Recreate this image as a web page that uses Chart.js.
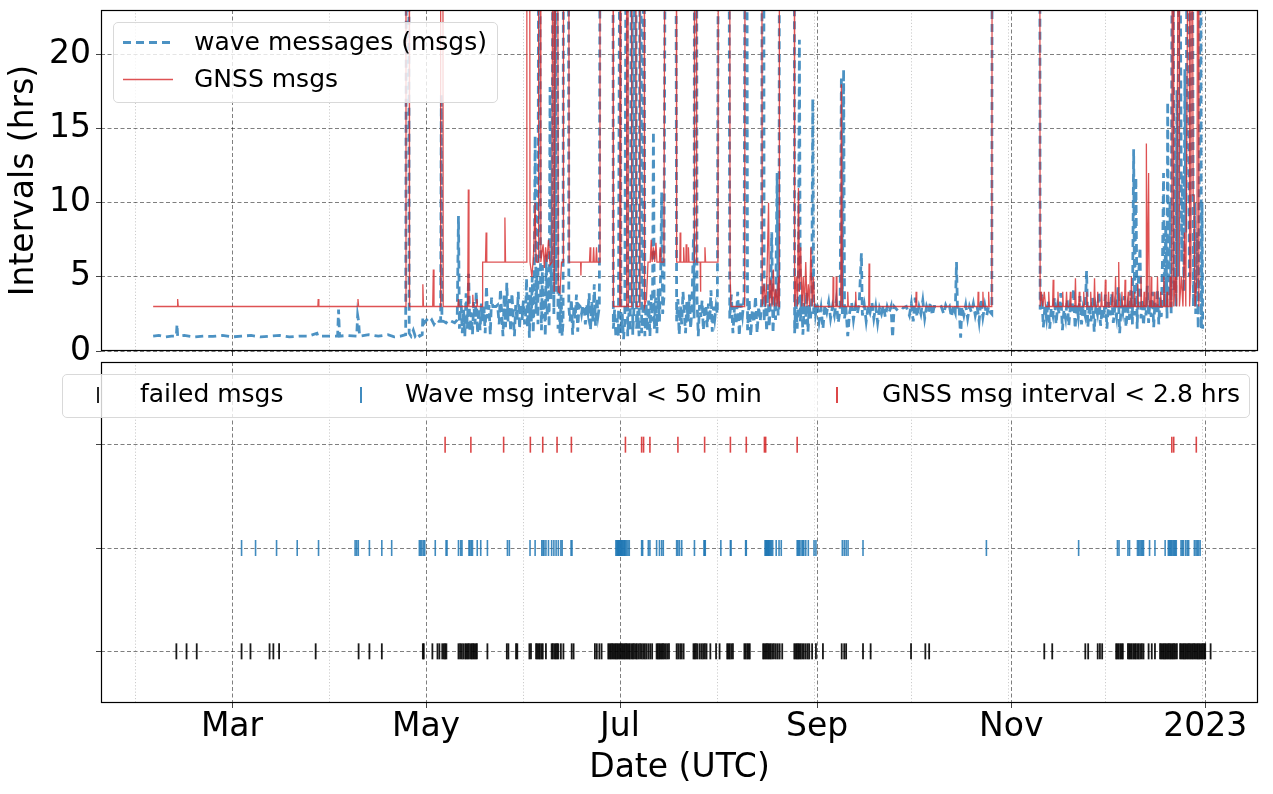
<!DOCTYPE html>
<html>
<head>
<meta charset="utf-8">
<script src="https://cdn.jsdelivr.net/npm/chart.js@4.4.1/dist/chart.umd.min.js"></script>
<style>
  body { margin: 0; background: #fff; font-family: 'DejaVu Sans', sans-serif; }
  #wrap { position: relative; width: 1273px; height: 794px; overflow: hidden; }
  #top { position: absolute; left: 0; top: 0; }
  #bottom { position: absolute; left: 0; top: 356px; }
  .legend { position: absolute; box-sizing: border-box; background: rgba(255,255,255,0.8);
            border: 1px solid #d9d9d9; border-radius: 5px; font-size: 25px; color: #000; }
  .legend span { position: absolute; line-height: 30px; white-space: nowrap; }
  .legend i { position: absolute; width: 1.5px; height: 16px; }
</style>
</head>
<body>
<div id="wrap">
  <canvas id="top" width="1273" height="368"></canvas>
  <canvas id="bottom" width="1273" height="438"></canvas>

  <div class="legend" style="left:113px;top:22px;width:385px;height:81px;">
    <svg style="position:absolute;left:0;top:0" width="383" height="79">
      <line x1="9" y1="19.5" x2="59" y2="19.5" stroke="rgba(31,119,180,0.8)" stroke-width="2.8" stroke-dasharray="8 5"/>
      <line x1="9" y1="56.5" x2="59" y2="56.5" stroke="rgba(214,39,40,0.8)" stroke-width="1.3"/>
    </svg>
    <span style="left:80px;top:4px">wave messages (msgs)</span>
    <span style="left:80px;top:41px">GNSS msgs</span>
  </div>

  <div class="legend" style="left:62px;top:374px;width:1188px;height:44px;">
    <i style="left:34px;top:11.5px;background:rgba(0,0,0,0.85)"></i>
    <span style="left:77px;top:4px">failed msgs</span>
    <i style="left:297px;top:11.5px;background:rgba(31,119,180,0.85)"></i>
    <span style="left:342px;top:4px">Wave msg interval &lt; 50 min</span>
    <i style="left:773px;top:11.5px;background:rgba(214,39,40,0.85)"></i>
    <span style="left:819px;top:4px">GNSS msg interval &lt; 2.8 hrs</span>
  </div>
</div>

<script>
// days counted from 2022-01-01 (day 0)
const majorTickDays = [59, 120, 181, 243, 304, 365];
const majorTickLabels = ['Mar', 'May', 'Jul', 'Sep', 'Nov', '2023'];
const minorTickDays = [28.5, 89.5, 150.5, 211.5, 242, 272.5, 303, 333.5, 364];
const hourTicks = [0, 5, 10, 15, 20];

// [day, interval hrs] — values above 23 run off the top of the plot
const wavePoints = [
  [34.2,1.0],[36,1.05],[38,0.95],[40,1.0],[41.5,1.0],[41.7,1.8],[41.9,1.0],[44,1.05],[47,0.95],[50,1.0],
  [53,0.98],[56,1.05],[59,0.95],[62,1.0],[65,1.05],[68,0.95],[71,1.0],[74,1.05],[77,0.95],[80,1.0],
  [83,1.0],[85.7,1.2],[86,1.0],[89,1.0],[92.2,1.0],[92.5,2.8],[92.8,1.0],[95,1.05],[98.2,1.0],[98.5,2.4],
  [98.8,2.0],[99.1,1.0],[102,1.1],[105,1.0],[108,1.1],[110,0.95],[112,1.0],[113.6,1.1],[113.8,26],[114.6,26],
  [114.7,1.2],[115.3,1.0],[116,1.4],[116.6,1.0],[117.3,1.2],[118,1.0],[118.8,1.1],[119,2.3],[119.5,1.9],[120.2,2.1],
  [121,1.9],[121.8,2.1],[122.5,1.8],[123.3,2.1],[124,2.0],[124.6,2.0],[124.8,17.3],[125,2.0],[125.5,2.0],[126.3,1.9],
  [127,2.1],[128,2.0],[129,1.9],[129.8,2.1],[130.2,9.1],[130.5,1.5],[131,3.5],[131.4,1.2],[131.8,2.8],[132.2,1.0],
  [132.6,3.9],[133,1.5],[133.4,5.2],[133.8,1.3],[134.2,2.6],[134.6,1.1],[135,3.3],[135.4,1.8],[135.8,4.0],[136.2,1.2],
  [136.6,2.9],[137,1.4],[137.4,3.2],[137.8,2.0],[138.2,3.0],[138.6,1.2],[139,4.4],[139.4,2.2],[139.8,3.1],[140.2,1.1],
  [140.6,3.6],[141,3.0],[142,3.0],[142.5,3.1],[143,1.8],[143.4,4.2],[143.8,2.5],[144.2,1.0],[144.6,3.8],[145,1.6],
  [145.4,4.6],[145.8,2.0],[146.2,3.5],[146.6,1.3],[147,3.9],[147.4,2.4],[147.8,1.0],[148.2,3.1],[148.6,2.0],[149,4.0],
  [149.4,1.5],[149.8,3.2],[150.2,2.1],[150.6,3.4],[151,1.8],[151.3,2.4],[151.6,4.9],[151.9,1.6],[152.2,3.8],[152.5,0.9],
  [152.8,4.3],[153.1,2.0],[153.4,5.0],[153.7,1.2],[154,3.5],[154.3,14.5],[154.6,2.5],[154.9,5.5],[155.2,1.8],[155.4,30],
  [155.8,30],[156,4.6],[156.3,1.4],[156.6,5.8],[156.9,2.2],[157.2,4.0],[157.5,1.0],[157.8,6.5],[158.1,2.3],[158.4,5.0],
  [158.7,1.6],[159,17.8],[159.3,3.5],[159.6,8.0],[159.9,30],[160.2,2.5],[160.6,30],[160.9,4.0],[161.2,30],[161.5,1.5],
  [161.8,4.5],[162.1,1.2],[162.5,3.8],[162.8,1.0],[163.1,2.0],[163.2,30],[164.8,30],[164.9,3.0],[165.3,2.0],[165.7,3.5],
  [166.1,1.1],[166.5,3.0],[166.9,2.2],[167.3,3.8],[167.7,1.3],[168.1,3.1],[168.5,3.0],[168.9,2.5],[169.3,3.1],[169.7,3.0],
  [170.1,1.8],[170.5,3.2],[170.9,2.6],[171.3,3.9],[171.7,1.4],[172.1,3.3],[172.5,2.0],[172.9,4.5],[173.3,1.7],[173.7,3.6],
  [174.1,2.4],[174.5,3.0],[174.7,30],[178.8,30],[178.9,1.5],[179.3,2.8],[179.7,0.9],[180.1,2.2],[180.5,1.0],[180.9,30],
  [181.1,30],[181.3,1.2],[181.7,2.5],[182.1,0.8],[182.5,2.0],[182.9,30],[183.2,30],[183.4,1.0],[183.8,2.6],[184.2,1.3],
  [184.6,30],[184.8,30],[185,1.1],[185.4,3.0],[185.6,30],[186,30],[186.2,1.5],[186.6,2.7],[187,1.0],[187.3,30],
  [187.6,30],[187.8,1.2],[188.2,2.5],[188.4,30],[188.6,30],[188.8,1.0],[189.2,3.2],[189.6,1.4],[190,3.4],[190.4,1.0],
  [190.8,3.8],[191.2,2.0],[191.5,14.8],[191.8,1.5],[192.2,3.6],[192.6,1.2],[193,4.2],[193.4,2.0],[193.8,5.5],[194.1,10.7],
  [194.4,2.5],[194.8,3.6],[195.2,30],[198.6,30],[198.8,2.0],[199.2,3.5],[199.6,1.1],[200,3.0],[200.4,1.8],[200.8,4.0],
  [201.2,2.6],[201.6,1.2],[202,3.3],[202.4,2.0],[202.8,3.8],[203.2,1.5],[203.6,2.9],[204.1,7.7],[204.3,2.2],[204.4,30],
  [205.1,30],[205.2,3.6],[205.6,1.0],[206,3.1],[206.4,2.3],[206.8,3.4],[207.2,1.4],[207.6,2.7],[208,3.1],[208.4,1.6],
  [208.8,3.2],[209.2,2.0],[209.6,4.1],[210,1.3],[210.4,3.0],[210.8,2.2],[211.2,3.0],[211.6,2.5],[211.9,30],[215.3,30],
  [215.5,2.2],[216,3.8],[216.5,1.2],[217,3.0],[217.5,1.8],[218,4.0],[218.5,1.0],[219,3.2],[219.5,2.4],[220,3.6],
  [220.3,30],[220.9,30],[221.1,1.4],[221.6,3.5],[222.1,1.0],[222.6,2.8],[223.1,1.9],[223.6,3.7],[224.1,1.2],[224.6,3.0],
  [225.1,2.0],[225.5,3.3],[225.7,30],[226.2,30],[226.3,2.0],[226.7,3.8],[227.1,1.3],[227.5,4.5],[227.9,1.6],[228.3,3.4],
  [228.7,8.0],[229.1,1.2],[229.5,3.6],[229.9,2.1],[230.4,12.0],[230.7,2.4],[231,3.0],[231.1,30],[235.8,30],[235.9,1.2],
  [236.3,3.6],[236.7,1.5],[237.1,4.2],[237.4,21.0],[237.7,2.0],[238.1,3.8],[238.5,1.1],[238.9,3.3],[239.3,1.8],[239.7,4.0],
  [240.1,1.3],[240.5,3.1],[240.9,2.2],[241.3,3.6],[241.6,17.0],[241.9,2.5],[242.3,3.2],[242.5,2.5],[243,3.2],[243.6,2.0],
  [244.2,2.9],[244.8,1.5],[245.4,3.1],[246,2.6],[246.6,3.3],[247.2,2.2],[247.8,3.0],[248.4,2.4],[249,3.4],[249.6,1.9],
  [250.2,2.8],[250.6,18.5],[250.9,2.5],[251.3,19.0],[251.6,2.2],[252,3.0],[252.6,1.0],[253.2,2.6],[253.8,3.3],[254.4,2.1],
  [255,3.0],[255.6,2.5],[256.2,3.2],[256.9,6.6],[257.2,2.4],[257.8,3.1],[258.4,2.0],[259,3.0],[259.6,2.6],[260.2,3.3],
  [260.8,2.2],[261.4,3.0],[262,1.9],[262.6,2.9],[263.2,2.5],[263.8,3.1],[264.4,2.3],[265,3.0],[265.6,2.6],[266.2,3.0],
  [266.7,0.9],[267.2,3.0],[268,2.8],[269,3.0],[270,2.9],[271,3.0],[272,2.4],[272.6,3.2],[273.2,2.0],[273.8,3.6],
  [274.4,2.3],[275,3.0],[275.6,2.5],[276.2,3.4],[276.8,2.2],[277.4,3.0],[278,2.6],[278.6,3.3],[279.2,2.4],[279.8,3.0],
  [280.5,3.0],[281.2,2.9],[282,3.0],[282.8,2.5],[283.4,3.1],[284,2.8],[284.6,3.0],[285.2,2.3],[285.8,3.0],[286.4,2.6],
  [286.8,6.0],[287.1,2.8],[287.6,3.0],[288.1,0.9],[288.5,3.0],[289.1,2.4],[289.7,3.1],[290.3,2.2],[290.9,3.0],[291.5,2.6],
  [292.1,3.2],[292.7,2.4],[293.3,3.0],[293.9,2.0],[294.5,3.5],[295.1,2.3],[295.7,3.1],[296.3,2.4],[296.9,3.0],[297.5,2.6],
  [297.9,2.5],[298,30],[313,30],[313.1,2.8],[313.6,3.8],[314.1,1.6],[314.6,3.0],[315.1,2.2],[315.6,3.4],[316.1,1.5],
  [316.6,2.9],[317.1,2.4],[317.6,3.6],[318.1,1.8],[318.6,3.0],[319.1,2.5],[319.6,3.9],[320.1,1.4],[320.6,2.8],[321.1,2.2],
  [321.6,3.5],[322.1,1.7],[322.6,3.0],[323.1,2.6],[323.6,4.2],[324.1,1.5],[324.6,3.1],[325.1,2.3],[325.6,3.7],[326.1,1.8],
  [326.6,2.9],[327.2,2.4],[327.7,5.4],[328.1,1.6],[328.6,3.2],[329.1,2.0],[329.6,3.6],[330.1,1.3],[330.6,3.0],[331.1,2.5],
  [331.6,4.0],[332.1,1.7],[332.6,2.9],[333.1,2.2],[333.6,3.8],[334.1,1.5],[334.6,3.3],[335.1,2.4],[335.6,3.9],[336.1,1.9],
  [336.6,3.0],[337.1,2.3],[337.6,4.3],[338.1,1.2],[338.6,3.2],[339.1,2.6],[339.6,3.7],[340.1,1.6],[340.6,2.9],[341.1,2.1],
  [341.6,4.1],[342.1,1.8],[342.5,13.6],[342.8,2.4],[343.2,11.7],[343.6,1.5],[344,4.8],[344.5,7.0],[344.8,2.2],[345.2,3.5],
  [345.6,1.7],[346,3.1],[346.4,2.4],[346.8,4.4],[347.2,1.9],[347.6,3.4],[348,2.3],[348.4,4.0],[348.8,1.6],[349.2,3.3],
  [349.6,2.5],[350,4.2],[350.4,1.8],[350.8,3.7],[351.2,2.3],[351.6,6.5],[351.9,12.0],[352.2,3.0],[352.6,8.5],[353,2.2],
  [353.2,16.8],[353.5,3.6],[353.9,10.0],[354.3,2.5],[354.6,30],[354.9,30],[355.2,4.0],[355.5,15.0],[355.8,3.0],[356.1,17.6],
  [356.4,5.0],[356.8,30],[357.1,30],[357.3,19.0],[357.6,6.0],[357.9,12.0],[358.3,4.0],[358.6,19.0],[358.9,8.0],[359.3,30],
  [359.7,30],[360,5.0],[360.4,14.0],[360.7,30],[361,30],[361.3,3.0],[361.7,10.0],[362,2.5],[362.4,8.0],[362.8,1.5],
  [363.2,14.0],[363.4,30],[363.6,30],[363.8,1.5],[364,10.0],[364.2,1.5]
];

const gnssPoints = [
  [34.2,3.0],[41.7,3.0],[41.9,3.5],[42.1,3.0],[86,3.0],[86.1,3.5],[86.3,3.0],[98.4,3.0],[98.6,3.5],[98.8,3.0],
  [113.6,3.0],[113.7,30],[114.7,30],[114.8,3.0],[118.8,3.0],[119,4.5],[119.2,3.0],[122.1,3.0],[122.3,5.5],[122.5,3.0],
  [124.5,3.0],[124.6,30],[125.3,30],[125.4,3.0],[130,3.0],[130.2,3.5],[130.4,3.0],[133.1,3.0],[133.3,10.9],[133.5,3.0],
  [134.5,3.0],[134.7,3.8],[134.9,3.0],[135.8,3.0],[136,3.5],[136.2,3.0],[137.7,3.0],[137.8,6.0],[138.7,6.0],[138.9,8.0],
  [139.1,6.0],[144.6,6.0],[144.8,9.0],[145,6.0],[151.1,6.0],[151.6,6.0],[151.7,30],[152.6,30],[152.7,6.0],[153.3,5.0],
  [153.8,6.5],[154.3,10.0],[154.6,6.0],[155.3,6.0],[155.4,30],[156,30],[156.1,6.0],[156.8,7.2],[157.2,5.6],[157.6,7.0],
  [158,6.0],[158.5,7.5],[159,5.8],[159.6,6.0],[159.8,30],[160.2,30],[160.3,4.0],[160.8,30],[161.4,30],[161.6,4.0],
  [162.1,3.9],[162.6,6.0],[163.1,6.0],[163.2,30],[164.9,30],[165,6.0],[168.6,6.0],[168.7,5.1],[168.8,6.0],[171.4,6.0],
  [171.6,7.0],[171.8,6.0],[172.5,6.0],[172.7,7.0],[172.9,6.0],[173.4,6.0],[173.6,7.0],[173.8,6.0],[174.6,6.0],[174.7,30],
  [178.8,30],[178.9,3.0],[180.9,3.0],[181,30],[181.2,30],[181.3,3.0],[183,3.0],[183.1,30],[183.5,30],[183.6,3.0],
  [184.6,3.0],[184.7,30],[186,30],[186.1,3.0],[187.1,3.0],[187.2,30],[188.6,30],[188.7,3.0],[189.3,3.5],[189.8,6.0],
  [190.5,6.0],[190.8,7.5],[191.1,6.0],[191.5,7.0],[191.9,6.0],[192.3,7.3],[192.6,6.0],[193.4,6.0],[193.6,7.0],[193.8,6.0],
  [194.8,6.0],[195.1,30],[198.7,30],[198.8,6.0],[199.8,6.0],[199.9,8.0],[200.1,6.0],[200.9,6.0],[201,7.0],[201.2,6.0],
  [201.7,6.0],[201.8,7.2],[202,6.0],[202.4,6.0],[202.5,7.0],[202.7,6.0],[204.3,6.0],[204.4,30],[205,30],[205.1,6.0],
  [206.2,6.0],[206.3,4.0],[206.4,6.0],[207.6,6.0],[207.7,7.0],[207.9,6.0],[211.8,6.0],[211.9,30],[215.5,30],[215.6,5.0],
  [215.9,3.0],[220.2,3.0],[220.3,30],[225.6,30],[225.7,3.0],[226.3,4.5],[226.8,3.0],[227.2,5.0],[227.7,10.0],[228,3.0],
  [228.4,4.8],[228.8,3.0],[229.2,5.5],[229.6,3.0],[230,4.2],[230.4,3.0],[230.8,5.0],[231,3.0],[231.1,30],[235.8,30],
  [235.9,3.0],[236.4,5.0],[236.8,3.0],[237.1,11.0],[237.4,4.0],[237.8,7.0],[238.2,3.0],[238.6,5.0],[239,3.0],[239.4,6.0],
  [239.8,3.0],[240.2,4.5],[240.6,3.0],[241,7.0],[241.4,3.0],[241.8,5.0],[242.2,3.0],[247.9,3.0],[248,5.0],[248.2,3.0],
  [248.9,3.0],[249,5.0],[249.2,3.0],[250.4,3.0],[250.6,18.0],[250.9,3.0],[252.5,3.0],[252.6,4.0],[252.8,3.0],[255,3.0],
  [255.1,4.0],[255.3,3.0],[259.2,3.0],[259.3,5.9],[259.5,3.0],[274,3.0],[274.1,4.0],[274.3,3.0],[293.5,3.0],[293.6,4.0],
  [293.8,3.0],[295,3.0],[295.1,4.0],[295.3,3.0],[296.8,3.0],[296.9,4.0],[297.1,3.0],[297.9,3.0],[298,30],[313,30],
  [313.1,3.0],[313.5,4.0],[313.9,3.0],[314.4,4.0],[314.8,3.0],[315.6,3.0],[315.8,4.0],[316,3.0],[317,3.0],[317.2,4.8],
  [317.4,3.0],[318.5,3.0],[318.7,4.0],[318.9,3.0],[320,3.0],[320.2,4.0],[320.4,3.0],[321.2,3.0],[321.4,4.0],[321.6,3.0],
  [322.4,3.0],[322.6,4.0],[322.8,3.0],[324,3.0],[324.2,4.9],[324.4,3.0],[325.2,3.0],[325.4,4.0],[325.6,3.0],[326.6,3.0],
  [326.8,4.0],[327,3.0],[327.6,3.0],[327.8,4.0],[328,3.0],[328.8,3.0],[329,4.0],[329.2,3.0],[330,3.0],[330.2,4.9],
  [330.4,3.0],[331,3.0],[331.2,4.0],[331.4,3.0],[332.2,3.0],[332.4,4.0],[332.6,3.0],[333.4,3.0],[333.6,4.8],[333.8,3.0],
  [334.4,3.0],[334.6,4.0],[334.8,3.0],[335.6,3.0],[335.8,4.0],[336,3.0],[336.6,3.0],[336.8,5.0],[337,3.0],[337.6,3.0],
  [337.8,6.0],[338,3.0],[338.6,3.0],[338.8,4.0],[339,3.0],[339.6,3.0],[339.8,4.8],[340,3.0],[340.6,3.0],[340.8,4.0],
  [341,3.0],[341.6,3.0],[341.8,5.0],[342,3.0],[342.6,3.0],[342.8,4.0],[343,3.0],[343.6,3.0],[343.8,4.5],[344,3.0],
  [344.6,3.0],[344.8,5.0],[345,3.0],[345.6,3.0],[345.8,4.0],[346,3.0],[346.4,3.0],[346.5,14.0],[346.7,3.0],[347,3.0],
  [347.2,12.0],[347.4,3.0],[347.8,3.0],[348,5.0],[348.2,3.0],[348.8,3.0],[349,4.0],[349.2,3.0],[349.8,3.0],[350,5.0],
  [350.2,3.0],[350.8,3.0],[351,4.0],[351.2,3.0],[351.8,3.0],[352,5.0],[352.2,3.0],[352.8,3.0],[353,4.0],[353.2,3.0],
  [353.8,3.0],[354,5.0],[354.2,3.0],[354.5,3.0],[354.6,30],[355,30],[355.1,3.0],[355.6,5.0],[356,3.0],[356.5,30],
  [356.8,30],[356.9,3.0],[357.5,5.0],[358,3.0],[358.5,8.0],[358.9,3.0],[359.6,30],[360,30],[360.1,3.0],[360.5,5.0],
  [360.6,30],[361,30],[361.2,10.5],[361.5,10.5],[361.8,3.0],[362.4,5.0],[362.6,30],[362.9,30],[363,3.0]
];

// event rows, bottom to top
const eventRows = ['failed msgs', 'Wave msg interval < 50 min', 'GNSS msg interval < 2.8 hrs'];

const failedDays = [
  41.5, 44.7, 47.9, 62.0, 64.8, 70.8, 72.0, 73.8, 85.3, 98.8, 102.2, 106.1,
  119.0, 119.3, 122.0, 123.6, 124.2, 125.1, 125.6, 126.0, 126.4, 130.2, 130.7, 131.2, 131.7, 132.3,
  132.7, 133.1, 133.5, 134.0, 134.4, 134.8, 135.2, 135.6, 136.0, 139.3, 145.4, 145.9, 148.3, 148.7,
  152.5, 153.0, 154.6, 155.0, 155.4, 155.8, 156.3, 156.7, 157.7, 159.5, 159.9, 160.4, 160.8, 161.2,
  161.6, 162.4, 163.2, 165.8, 166.4, 173.1, 173.7, 174.5, 175.2, 177.3, 177.7, 178.1, 178.5, 178.9,
  179.3, 179.7, 180.1, 180.5, 180.9, 181.3, 181.7, 182.1, 182.5, 182.9, 183.3, 183.7, 184.1, 184.6,
  185.0, 185.4, 185.9, 186.3, 186.8, 187.3, 187.8, 188.3, 188.8, 189.3, 189.9, 190.5, 191.1, 192.5,
  192.9, 193.3, 193.7, 194.1, 194.5, 194.9, 195.4, 195.9, 196.4, 198.8, 199.3, 199.9, 200.4, 201.0,
  204.1, 204.5, 204.9, 205.4, 206.1, 206.7, 207.2, 207.7, 208.2, 209.4, 211.2, 212.3, 214.7, 215.1,
  215.5, 216.0, 216.5, 220.1, 220.5, 221.0, 221.4, 221.8, 226.0, 226.4, 226.8, 227.2, 227.6, 228.0,
  228.4, 228.9, 229.4, 230.0, 230.6, 231.2, 232.0, 235.8, 236.2, 236.6, 237.0, 237.4, 237.8, 238.3,
  238.8, 239.4, 240.0, 240.5, 241.4, 242.6, 244.8, 250.7, 251.5, 252.1, 257.4, 259.8, 272.5, 277.0,
  278.2, 314.4, 316.9, 327.3, 328.2, 331.2, 331.9, 332.6, 337.0, 337.4, 337.8, 338.3, 338.7, 339.1,
  340.7, 341.1, 341.5, 341.9, 342.4, 342.8, 343.2, 343.7, 344.1, 344.6, 345.1, 345.6, 347.2, 348.2,
  349.2, 350.8, 351.2, 351.6, 352.0, 352.4, 352.8, 353.2, 353.6, 354.0, 354.4, 354.8, 355.2, 355.6,
  356.1, 357.1, 357.5, 357.9, 358.3, 358.7, 359.1, 359.5, 359.9, 360.3, 360.7, 361.1, 361.5, 361.9,
  362.3, 362.7, 363.1, 363.5, 363.9, 364.3, 364.7, 365.0, 366.7
];

const waveShortDays = [
  62.0, 66.4, 73.0, 79.5, 86.2, 97.7, 98.2, 98.7, 102.2, 106.1, 109.2, 117.9, 118.3, 118.7, 119.2,
  119.6, 122.9, 126.3, 126.6, 130.2, 130.9, 131.3, 133.5, 133.8, 134.2, 134.6, 136.1, 137.2, 139.3,
  145.6, 146.2, 152.7, 154.3, 156.4, 156.8, 157.1, 157.7, 158.5, 159.5, 160.2, 160.9, 161.6, 162.4,
  162.8, 165.6, 165.9, 179.7, 180.0, 180.2, 180.4, 180.6, 180.8, 181.0, 181.2, 181.4, 181.6, 181.8,
  182.0, 182.3, 182.5, 182.7, 183.1, 183.5, 183.9, 187.8, 188.1, 189.9, 190.4, 192.5, 193.4, 194.1,
  194.6, 198.8, 199.2, 199.7, 200.4, 204.4, 207.4, 207.6, 207.8, 212.7, 215.7, 215.9, 220.5, 220.7,
  226.6, 226.8, 227.0, 227.2, 227.4, 227.6, 227.8, 228.0, 228.3, 228.6, 229.0, 230.1, 231.0, 231.7,
  236.7, 237.0, 237.3, 237.6, 238.2, 238.5, 238.8, 239.4, 240.2, 242.0, 242.6, 250.9, 251.5, 252.1,
  252.7, 257.4, 296.2, 325.2, 337.4, 337.9, 340.7, 341.2, 343.7, 344.1, 344.5, 344.9, 345.3, 345.6,
  347.5, 349.2, 352.4, 353.4, 353.7, 354.0, 354.3, 354.6, 355.0, 355.3, 355.6, 355.9, 357.4, 357.8,
  358.2, 358.9, 359.4, 359.8, 361.6, 362.1, 362.5, 362.9, 363.4
];

const gnssShortDays = [
  126.0, 134.1, 144.4, 152.8, 156.7, 161.2, 165.7, 182.7, 187.8, 188.4, 190.4, 199.2, 207.6,
  215.7, 220.7, 226.4, 226.8, 236.7, 354.5, 355.1, 362.2
];

Chart.defaults.font.family = "'DejaVu Sans', sans-serif";
Chart.defaults.color = '#000';

const GRID = 'rgba(0,0,0,0.5)';
const MINOR_GRID = 'rgba(0,0,0,0.2)';
const isMajor = (ctx) => ctx.tick ? majorTickDays.includes(ctx.tick.value) : true;

const frame = {
  id: 'frame',
  afterDraw(chart) {
    const { ctx, chartArea: a } = chart;
    ctx.save();
    ctx.strokeStyle = '#000';
    ctx.lineWidth = 1.2;
    ctx.strokeRect(Math.round(a.left) + 0.5, Math.round(a.top) + 0.5,
                   Math.round(a.right - a.left) - 1, Math.round(a.bottom - a.top) - 1);
    ctx.restore();
  }
};

// axis label room is fixed by hand so both panels share the same plot edges
function fixY(s) { s.width = 101; s.paddingTop = 0; s.paddingBottom = 0; }

function dateAxis(withLabels) {
  return {
    type: 'linear',
    min: 17.8,
    max: 381.6,
    afterBuildTicks: (s) => {
      s.ticks = majorTickDays.concat(minorTickDays).sort((a, b) => a - b).map(v => ({ value: v }));
    },
    afterFit: (s) => {
      // top panel: extra room below so the "0" label is not cut off
      s.height = withLabels ? 91 : 17;
      s.paddingLeft = 0;
      s.paddingRight = 0;
    },
    ticks: {
      display: withLabels,
      autoSkip: false,
      maxRotation: 0,
      minRotation: 0,
      padding: 0,
      font: { size: 33 },
      callback: (v) => {
        const i = majorTickDays.indexOf(v);
        return i < 0 ? '' : majorTickLabels[i];
      }
    },
    grid: {
      color: (c) => isMajor(c) ? GRID : MINOR_GRID,
      lineWidth: 1,
      tickLength: 5,
      tickColor: (c) => isMajor(c) ? '#444' : 'rgba(0,0,0,0)',
      tickBorderDash: []
    },
    border: { display: false, dash: (c) => isMajor(c) ? [4, 2.5] : [1.2, 2] },
    title: {
      display: withLabels,
      text: 'Date (UTC)',
      font: { size: 33 },
      padding: { top: 0, bottom: 6 }
    }
  };
}

new Chart(document.getElementById('top'), {
  type: 'line',
  data: {
    datasets: [
      {
        label: 'GNSS msgs',
        data: gnssPoints.map(([x, y]) => ({ x, y })),
        borderColor: 'rgba(214,39,40,0.8)',
        borderWidth: 1.3,
        pointRadius: 0,
        tension: 0,
        clip: 0,
        order: 1
      },
      {
        label: 'wave messages (msgs)',
        data: wavePoints.map(([x, y]) => ({ x, y })),
        borderColor: 'rgba(31,119,180,0.8)',
        borderWidth: 2.8,
        borderDash: [8, 5],
        pointRadius: 0,
        tension: 0,
        clip: 0,
        order: 2
      }
    ]
  },
  options: {
    responsive: false,
    animation: false,
    events: [],
    layout: { autoPadding: false, padding: { top: 10, right: 15, left: 0, bottom: 0 } },
    plugins: { legend: { display: false }, tooltip: { enabled: false } },
    scales: {
      x: dateAxis(false),
      y: {
        min: 0,
        max: 23,
        afterBuildTicks: (s) => { s.ticks = hourTicks.map(v => ({ value: v })); },
        afterFit: fixY,
        ticks: { font: { size: 33 }, padding: 5, callback: (v) => String(v) },
        grid: { color: GRID, lineWidth: 1, tickLength: 5, tickColor: '#444', tickBorderDash: [] },
        border: { display: false, dash: [4, 2.5] },
        title: { display: true, text: 'Intervals (hrs)', font: { size: 33 }, padding: { top: 5, bottom: 0 } }
      }
    }
  },
  plugins: [frame]
});

const eventColors = ['rgba(0,0,0,0.9)', 'rgba(31,119,180,0.85)', 'rgba(214,39,40,0.85)'];
const eventWidths = [1.8, 1.6, 1.6];
const eventDays = [failedDays, waveShortDays, gnssShortDays];

new Chart(document.getElementById('bottom'), {
  type: 'scatter',
  data: {
    datasets: eventRows.map((name, row) => ({
      label: name,
      data: eventDays[row].map(d => ({ x: d, y: row })),
      pointStyle: 'line',
      rotation: 90,
      pointRadius: 8,
      pointHoverRadius: 8,
      pointBorderWidth: eventWidths[row],
      borderColor: eventColors[row],
      backgroundColor: eventColors[row]
    }))
  },
  options: {
    responsive: false,
    animation: false,
    events: [],
    layout: { autoPadding: false, padding: { top: 6, right: 15, left: 0, bottom: 0 } },
    plugins: { legend: { display: false }, tooltip: { enabled: false } },
    scales: {
      x: dateAxis(true),
      y: {
        min: -0.5,
        max: 2.8,
        afterBuildTicks: (s) => { s.ticks = eventRows.map((_, i) => ({ value: i })); },
        afterFit: fixY,
        ticks: { callback: () => '' },
        grid: { color: GRID, lineWidth: 1, tickLength: 5, tickColor: '#444', tickBorderDash: [] },
        border: { display: false, dash: [4, 2.5] }
      }
    }
  },
  plugins: [frame]
});
</script>
</body>
</html>
